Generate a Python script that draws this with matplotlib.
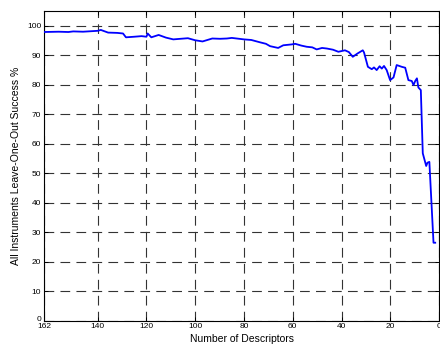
import numpy as np
import matplotlib
matplotlib.use('Agg')
import matplotlib.pyplot as plt

plt.rcParams['font.family'] = ['Liberation Sans', 'DejaVu Sans']
plt.rcParams['lines.scale_dashes'] = False

# number of descriptors kept (x) and leave-one-out success (y)
n_desc = [162, 156, 152, 150, 146, 142, 140, 138.7, 135.7, 132, 129.6, 128.4, 125, 122,
          120, 119.5, 118, 115, 112, 109, 106, 103, 100, 97, 93, 89.8, 87, 85, 82, 80,
          77, 73.4, 71, 69.3, 66, 63.9, 60.4, 59, 56.5, 54.3, 52, 50.2, 48, 46, 43.5,
          41.3, 38.6, 37, 35.4, 33.5, 31.3, 30.8, 29.2, 27.6, 26.7, 25.6, 24.4, 23.5,
          22.6, 21.5, 20.1, 18.7, 17.4, 15.3, 13.9, 12.6, 11.2, 10.5, 9.8, 9.1, 8.5,
          7.5, 6.7, 5.3, 4.8, 4.0, 2.3, 1.6]
success = [97.8, 97.9, 97.8, 98.0, 97.9, 98.1, 98.2, 98.5, 97.6, 97.5, 97.3, 96.0, 96.2, 96.4,
           96.2, 97.3, 96.0, 96.8, 95.9, 95.3, 95.5, 95.7, 95.0, 94.6, 95.6, 95.5, 95.6, 95.8,
           95.5, 95.3, 95.1, 94.3, 93.8, 93.0, 92.4, 93.3, 93.6, 93.8, 93.2, 92.8, 92.6, 91.9,
           92.4, 92.2, 91.8, 91.1, 91.6, 91.0, 89.4, 90.5, 91.6, 90.9, 86.0, 85.2, 85.8, 84.9,
           86.2, 85.4, 86.3, 84.9, 81.5, 82.4, 86.6, 86.0, 85.7, 81.5, 81.2, 79.8, 81.2, 82.1,
           79.0, 78.1, 56.7, 52.4, 53.5, 53.8, 26.4, 26.4]

xticks = [162, 140, 120, 100, 80, 60, 40, 20, 0]
yticks = list(range(0, 101, 10))

fig = plt.figure(figsize=(4.4, 3.47), dpi=100)
ax = fig.add_axes([0.1, 0.076, 0.898, 0.893])

ax.plot(n_desc, success, color='#0000ff', lw=1.3, zorder=3)

ax.set_xlim(162, 0)
ax.set_ylim(0, 105)
ax.set_xticks(xticks)
ax.set_yticks(yticks)
ax.grid(True, color='#333333', lw=0.8, linestyle=(0, (7, 4.5)))
ax.tick_params(direction='in', length=3, width=0.7, labelsize=6, pad=2,
               top=True, right=True)
for s in ax.spines.values():
    s.set_linewidth(0.8)

# the "0" sits on the axis line, above the "162" like in the original
fig.canvas.draw()
ax.get_yticklabels()[0].set_verticalalignment('baseline')

ax.set_xlabel('Number of Descriptors', fontsize=7.5, labelpad=2.5)
ax.set_ylabel('All Instruments Leave-One-Out Success %', fontsize=7.5, labelpad=4)

fig.savefig('out.png', dpi=100)
